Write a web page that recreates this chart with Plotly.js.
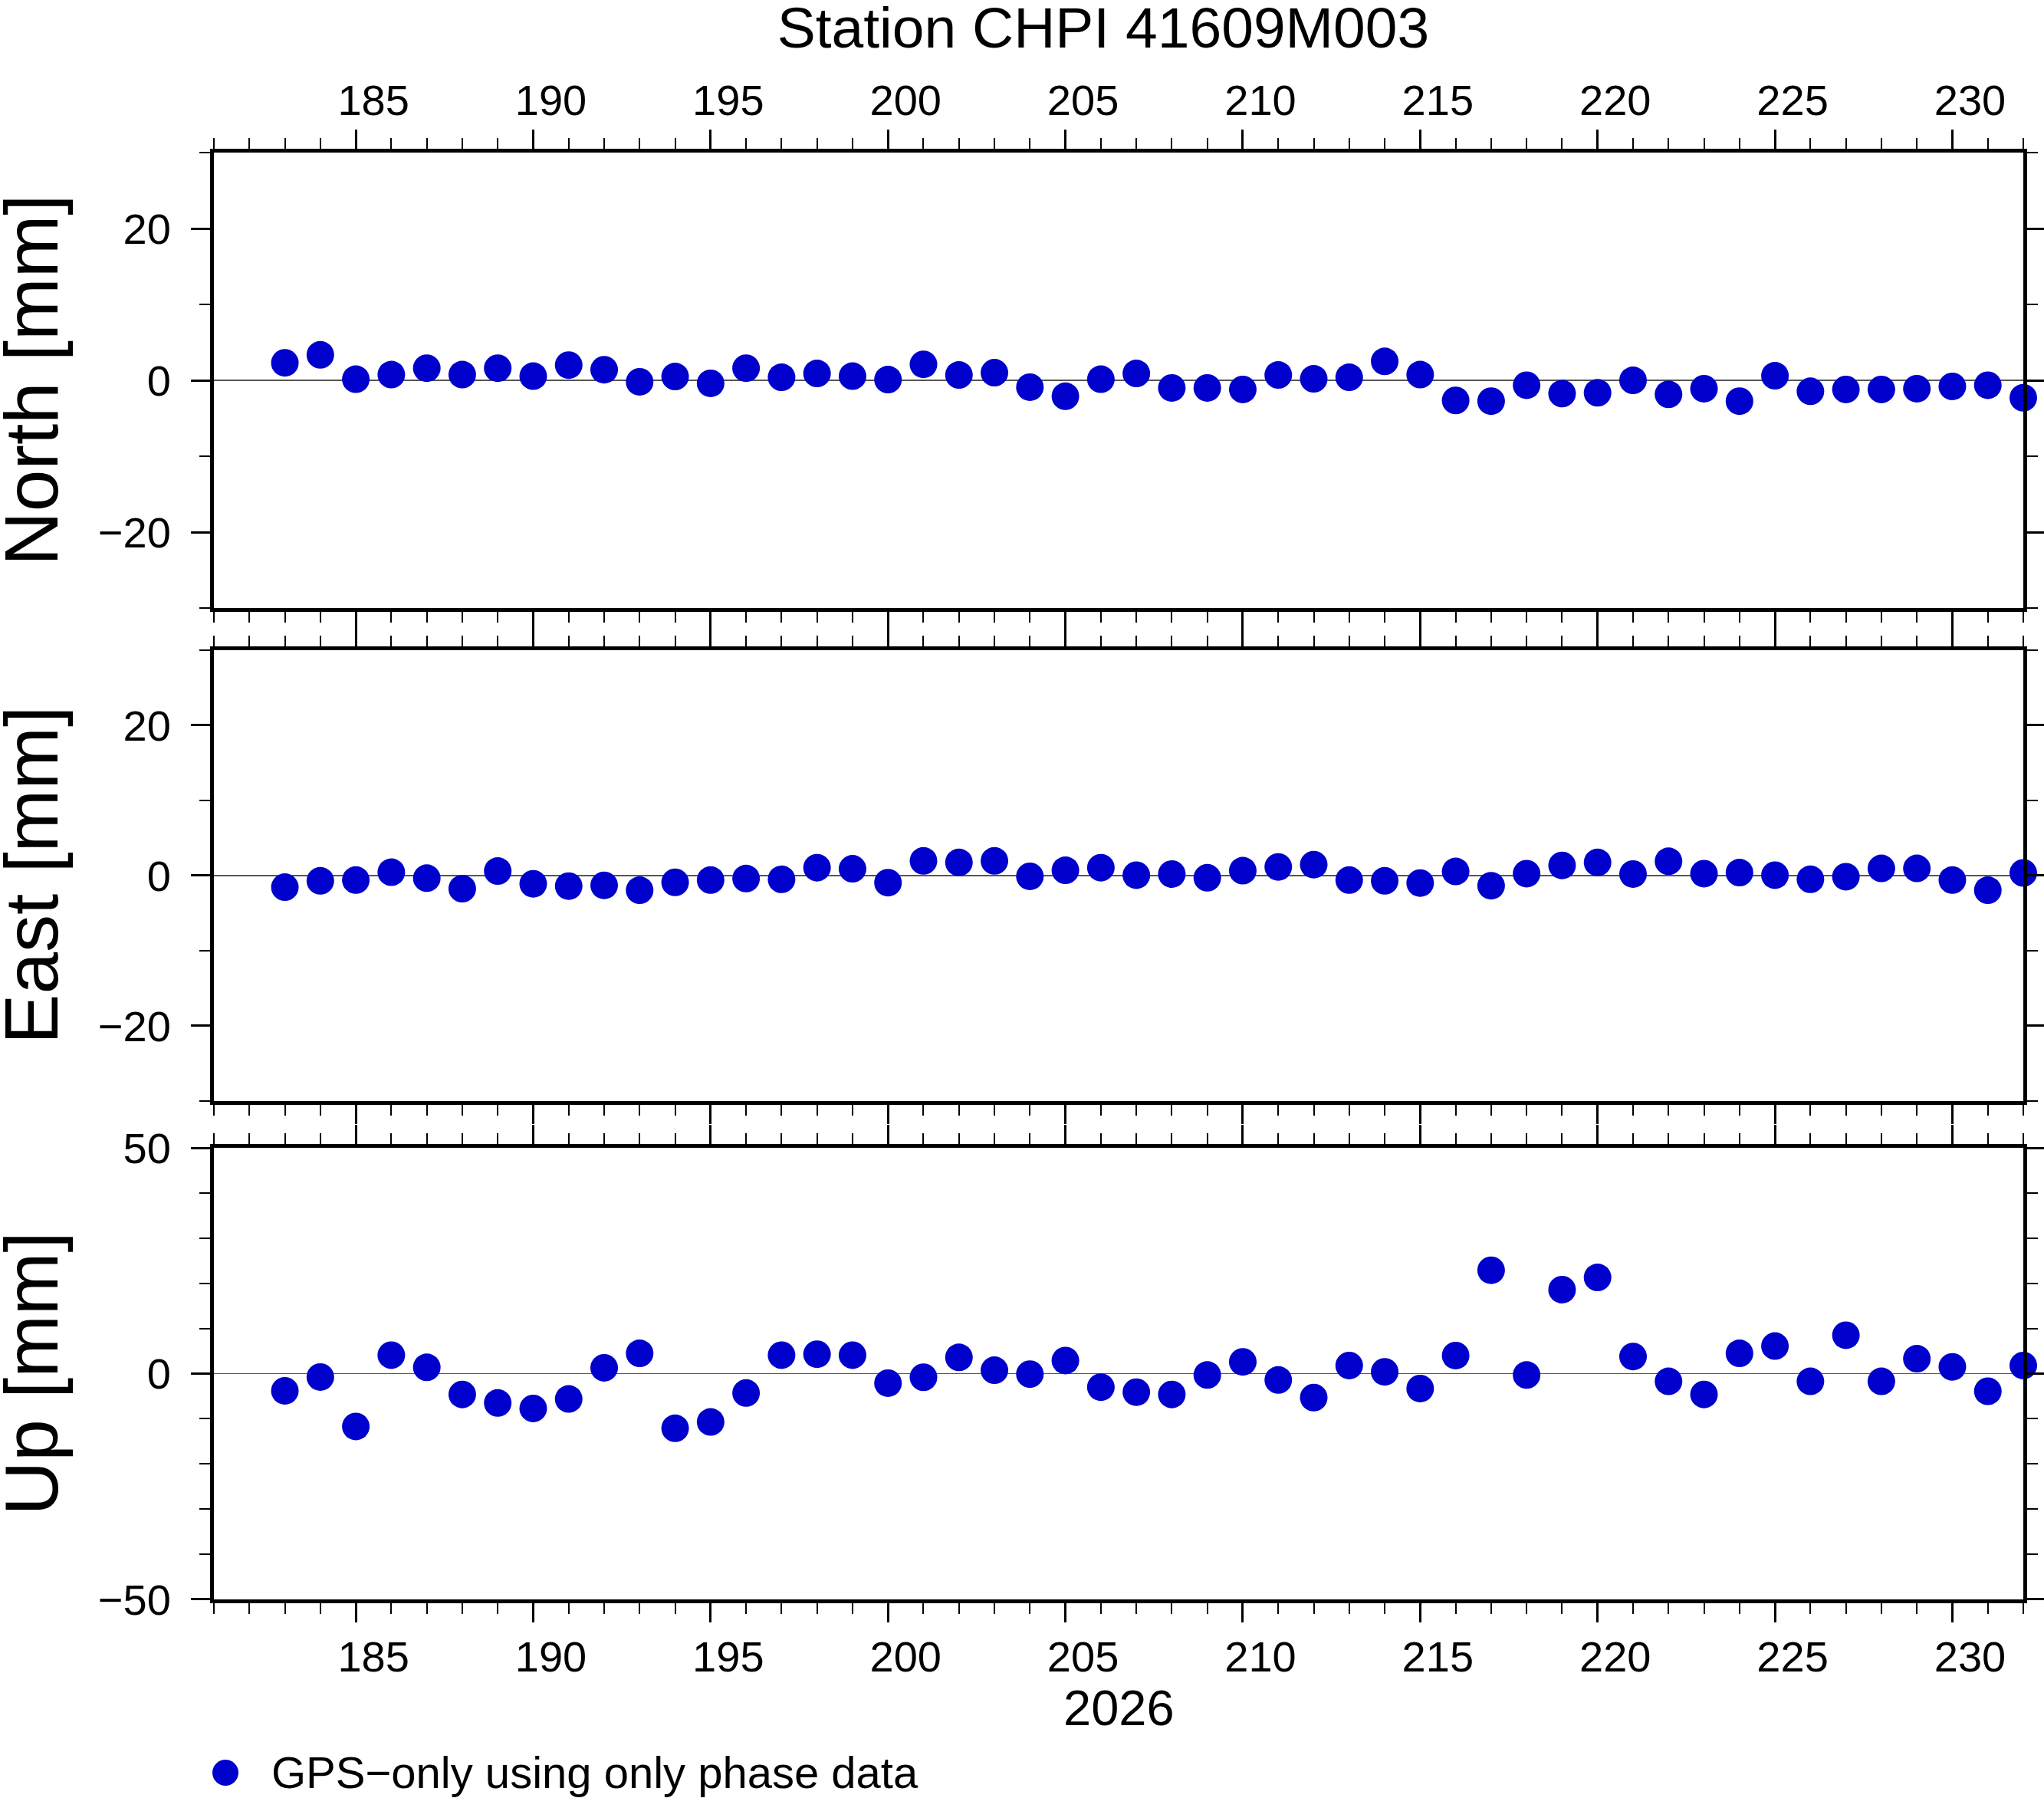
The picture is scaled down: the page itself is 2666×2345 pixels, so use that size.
<!DOCTYPE html>
<html>
<head>
<meta charset="utf-8">
<script src="https://cdn.plot.ly/plotly-3.0.1.min.js"></script>
<style>
  body { margin: 0; background: white; }
  #chart { width: 2666px; height: 2345px; }
</style>
</head>
<body>
<div id="chart"></div>
<script>
// day of year 2026
const days = [183, 184, 185, 186, 187, 188, 189, 190, 191, 192,
  193, 194, 195, 196, 197, 198, 199, 200, 201, 202,
  203, 204, 205, 206, 207, 208, 209, 210, 211, 212,
  213, 214, 215, 216, 217, 218, 219, 220, 221, 222,
  223, 224, 225, 226, 227, 228, 229, 230, 231, 232];

// residuals in mm
const north = [2.3, 3.35, 0.15, 0.75, 1.6, 0.75, 1.6, 0.55, 2.0, 1.4,
  -0.2, 0.5, -0.4, 1.6, 0.4, 0.9, 0.55, 0.1, 2.1, 0.7,
  1.0, -0.9, -2.1, 0.15, 0.9, -1.0, -1.0, -1.2, 0.7, 0.2,
  0.4, 2.5, 0.75, -2.65, -2.75, -0.65, -1.75, -1.65, 0.0, -1.85,
  -1.1, -2.75, 0.6, -1.45, -1.2, -1.2, -1.1, -0.8, -0.65, -2.3];

const east = [-1.55, -0.7, -0.6, 0.45, -0.35, -1.75, 0.6, -1.1, -1.4, -1.3,
  -1.95, -0.9, -0.6, -0.4, -0.5, 1.05, 0.9, -0.95, 1.95, 1.75,
  1.95, -0.1, 0.7, 1.05, 0.05, 0.2, -0.3, 0.65, 1.15, 1.45,
  -0.6, -0.7, -1.0, 0.55, -1.35, 0.25, 1.35, 1.75, 0.2, 1.9,
  0.25, 0.4, 0.05, -0.5, -0.15, 0.95, 0.95, -0.6, -1.95, 0.35];

const up = [-3.8, -0.75, -11.7, 4.1, 1.4, -4.6, -6.5, -7.7, -5.6, 1.3,
  4.5, -12.1, -10.7, -4.3, 4.1, 4.3, 4.1, -2.1, -0.8, 3.6,
  0.75, -0.1, 2.9, -3.0, -4.1, -4.6, -0.3, 2.6, -1.4, -5.3,
  1.8, 0.4, -3.3, 4.0, 22.9, -0.3, 18.6, 21.3, 3.8, -1.7,
  -4.6, 4.5, 6.1, -1.7, 8.5, -1.7, 3.3, 1.5, -3.9, 1.8];

const panelNames = ["North [mm]", "East [mm]", "Up [mm]"];
const seriesName = "GPS\u2212only using only phase data";
const yearLabel = "2026";

const dotColor = "#0000CD";

function pts(yvals, xa, ya) {
  return {
    x: days, y: yvals, xaxis: xa, yaxis: ya,
    type: "scatter", mode: "markers",
    name: seriesName,
    cliponaxis: false,
    marker: { size: 36, color: dotColor, line: { width: 0 } },
    hoverinfo: "skip"
  };
}

function xAxis(side, labels, anchor) {
  return {
    range: [181, 232], side: side, anchor: anchor,
    showticklabels: labels,
    tick0: 185, dtick: 5,
    ticks: "outside", ticklen: 25, tickwidth: 3, tickcolor: "black",
    minor: { tick0: 181, dtick: 1, ticks: "outside", ticklen: 14, tickwidth: 2, tickcolor: "black" },
    showline: true, linewidth: 5, linecolor: "black", mirror: "ticks",
    showgrid: false, zeroline: false,
    // GMT puts the day labels in the middle of the day interval
    ticklabelshift: 23, ticklabelstandoff: -3,
    tickfont: { size: 56 },
    automargin: false, fixedrange: true
  };
}

function yAxis(domain, range, step, anchor) {
  return {
    domain: domain, range: range, anchor: anchor,
    tick0: 0, dtick: step,
    ticks: "outside", ticklen: 25, tickwidth: 3, tickcolor: "black",
    minor: { tick0: 0, dtick: 10, ticks: "outside", ticklen: 14, tickwidth: 2, tickcolor: "black" },
    showline: true, linewidth: 5, linecolor: "black", mirror: "ticks",
    showgrid: false,
    zeroline: true, zerolinecolor: "#555", zerolinewidth: 1.5,
    ticklabelstandoff: 15,
    tickfont: { size: 56 },
    automargin: false, fixedrange: true
  };
}

const data = [
  pts(north, "x", "y"),
  pts(east, "x2", "y2"),
  pts(up, "x3", "y3")
];

const domains = [[0.6852, 1], [0.3445, 0.6561], [0, 0.3121]];

const x2 = xAxis("bottom", false, "y2"); x2.matches = "x";
const x3 = xAxis("bottom", true, "y3"); x3.matches = "x";

const layout = {
  width: 2666, height: 2345,
  margin: { l: 279, r: 27, t: 199, b: 259, pad: 0 },
  paper_bgcolor: "white", plot_bgcolor: "white",
  showlegend: false,
  font: { family: "Liberation Sans, Arial, sans-serif", color: "black", size: 56 },
  title: {
    text: "Station CHPI 41609M003",
    font: { size: 75 },
    xref: "paper", x: 0.4915, xanchor: "center",
    yref: "container", y: 1 - 36 / 2345, yanchor: "middle"
  },
  xaxis: xAxis("top", true, "y"),
  xaxis2: x2,
  xaxis3: x3,
  yaxis: yAxis(domains[0], [-30, 30], 20, "x"),
  yaxis2: yAxis(domains[1], [-30, 30], 20, "x2"),
  yaxis3: yAxis(domains[2], [-50, 50], 50, "x3"),
  annotations: [],
  shapes: [
    // legend symbol
    {
      type: "circle", xref: "paper", yref: "paper",
      xsizemode: "pixel", ysizemode: "pixel",
      xanchor: 0, yanchor: 0,
      x0: -2, x1: 32, y0: -243, y1: -209,
      fillcolor: dotColor, line: { width: 0 }
    }
  ]
};

panelNames.forEach(function (name, i) {
  layout.annotations.push({
    text: name, textangle: -90,
    xref: "paper", yref: "paper",
    x: 0, xshift: -238, xanchor: "center",
    y: (domains[i][0] + domains[i][1]) / 2, yanchor: "middle",
    showarrow: false,
    font: { size: 98 }
  });
});

layout.annotations.push({
  text: yearLabel, xref: "paper", yref: "paper",
  x: 0.5, y: 0, yshift: -141, xanchor: "center", yanchor: "middle",
  showarrow: false, font: { size: 65 }
});

layout.annotations.push({
  text: seriesName, xref: "paper", yref: "paper",
  x: 0, xshift: 73, y: 0, yshift: -225, xanchor: "left", yanchor: "middle",
  showarrow: false, font: { size: 58 }
});

Plotly.newPlot("chart", data, layout, { displayModeBar: false, staticPlot: true });
</script>
</body>
</html>
